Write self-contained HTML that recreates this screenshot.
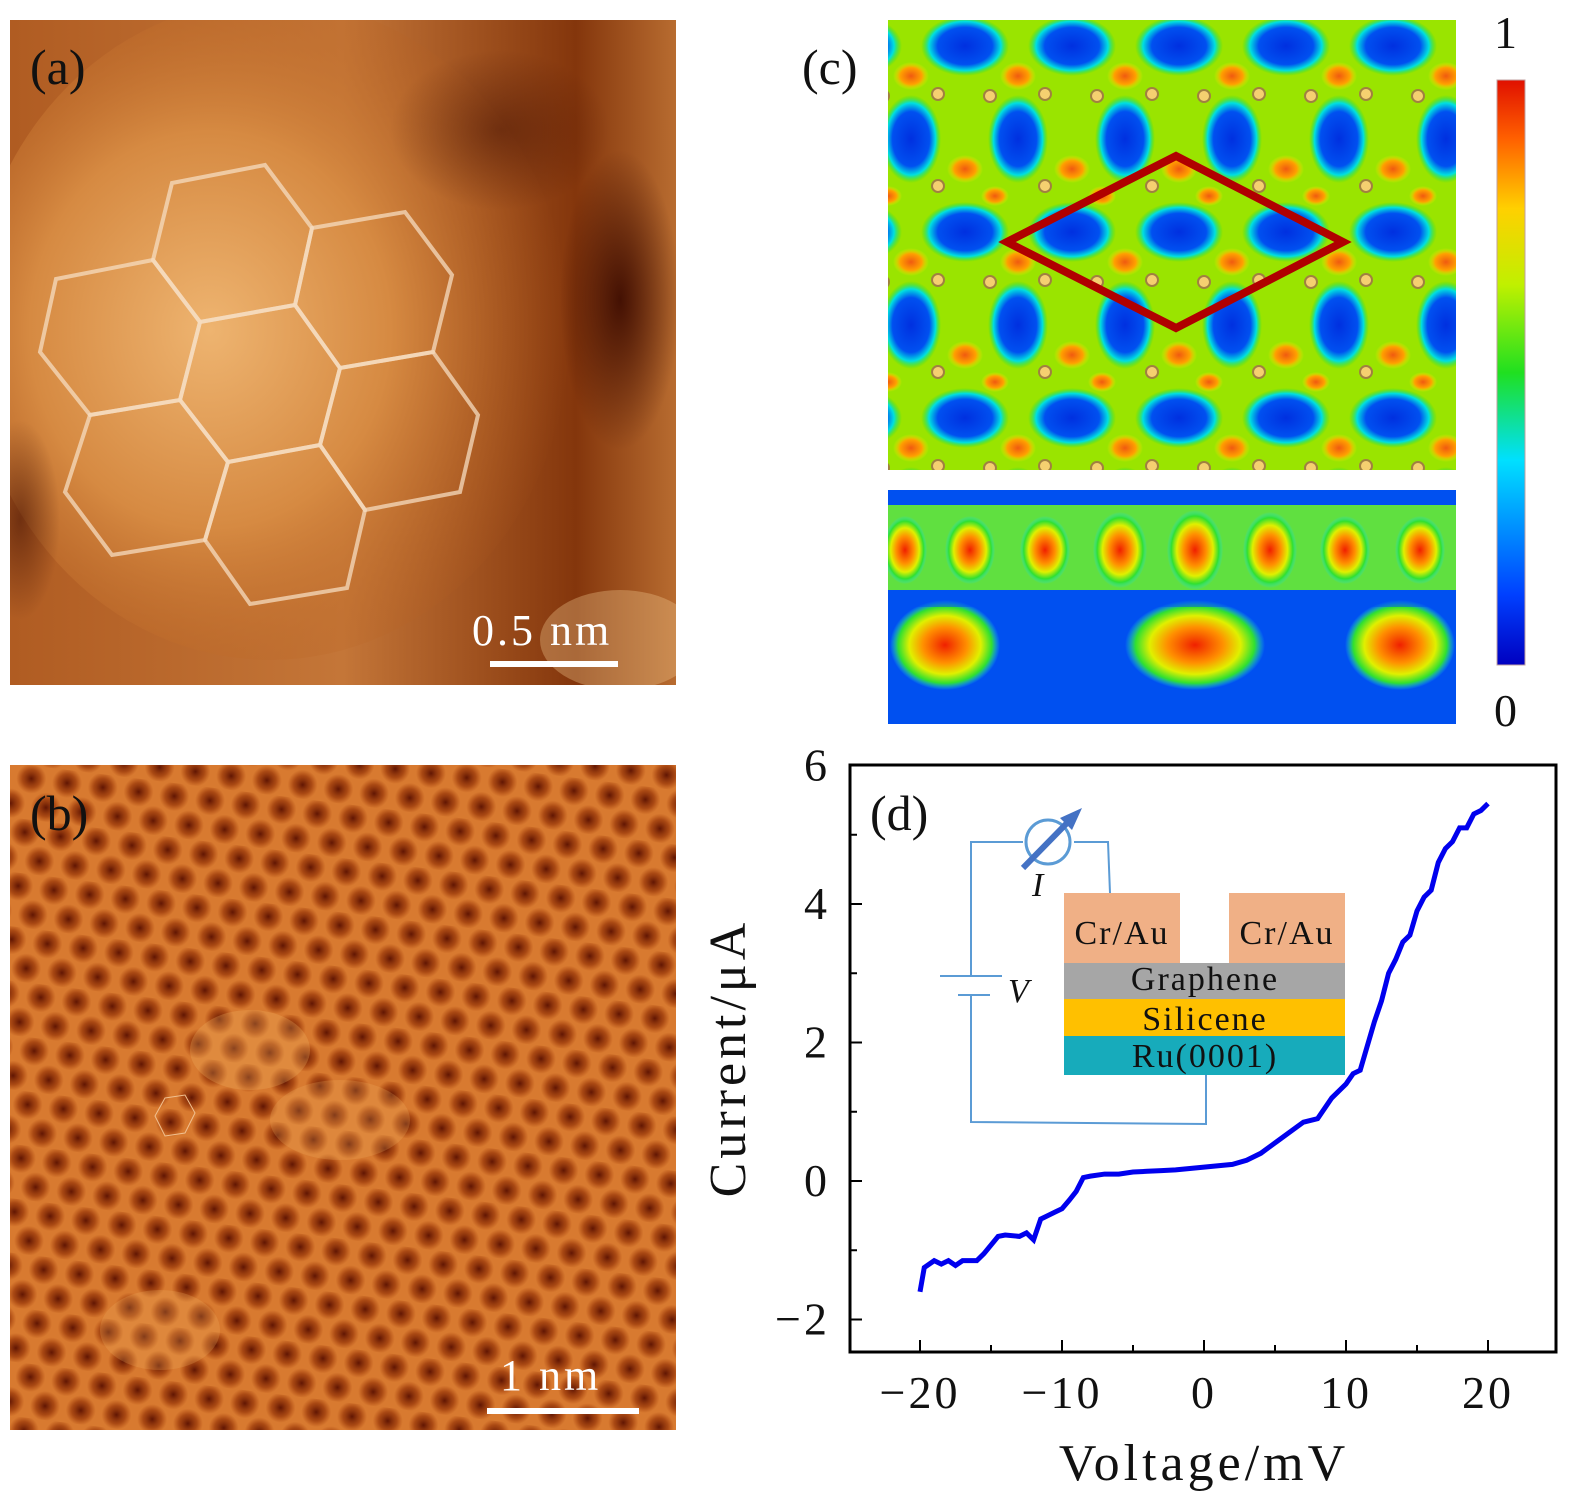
<!DOCTYPE html>
<html><head><meta charset="utf-8"><style>
body{margin:0;background:#fff;width:1575px;height:1506px;overflow:hidden;font-family:"Liberation Serif",serif}
svg{position:absolute;left:0;top:0}
</style></head><body>
<svg width="1575" height="1506" viewBox="0 0 1575 1506">
<defs>
<radialGradient id="aBright" cx="0.4" cy="0.5" r="0.6"><stop offset="0" stop-color="#eeb470"/><stop offset="0.5" stop-color="#d68a42"/><stop offset="1" stop-color="#b25a1c" stop-opacity="0"/></radialGradient>
<linearGradient id="aBase" x1="0" y1="0" x2="1" y2="0"><stop offset="0" stop-color="#b05c22"/><stop offset="0.5" stop-color="#c47638"/><stop offset="0.85" stop-color="#84360c"/><stop offset="1" stop-color="#b86c30"/></linearGradient>
<radialGradient id="dark" r="0.5"><stop offset="0" stop-color="#3a0a00" stop-opacity="0.9"/><stop offset="1" stop-color="#3a0a00" stop-opacity="0"/></radialGradient>
<radialGradient id="bdot" r="0.5"><stop offset="0" stop-color="#5a1000" stop-opacity="0.95"/><stop offset="0.6" stop-color="#8a2800" stop-opacity="0.6"/><stop offset="1" stop-color="#9a3000" stop-opacity="0"/></radialGradient>
<pattern id="bpat" width="36" height="54" patternUnits="userSpaceOnUse" patternTransform="rotate(7)">
<rect width="36" height="54" fill="#d87a30"/>
<circle cx="18" cy="13" r="15" fill="url(#bdot)"/><circle cx="0" cy="40" r="15" fill="url(#bdot)"/><circle cx="36" cy="40" r="15" fill="url(#bdot)"/>
</pattern>
<radialGradient id="blue" r="0.5"><stop offset="0" stop-color="#0030e0"/><stop offset="0.62" stop-color="#0050f0"/><stop offset="0.82" stop-color="#00e0e0"/><stop offset="1" stop-color="#20e020" stop-opacity="0"/></radialGradient>
<radialGradient id="org" r="0.5"><stop offset="0" stop-color="#f05a10"/><stop offset="0.6" stop-color="#ffa000"/><stop offset="1" stop-color="#f0f000" stop-opacity="0"/></radialGradient>
<pattern id="cpat" width="107" height="186" patternUnits="userSpaceOnUse" patternTransform="translate(965,46)">
<rect width="107" height="186" fill="#9ae400"/>
<ellipse cx="0" cy="0" rx="44" ry="30" fill="url(#blue)"/>
<ellipse cx="107" cy="0" rx="44" ry="30" fill="url(#blue)"/>
<ellipse cx="0" cy="186" rx="44" ry="30" fill="url(#blue)"/>
<ellipse cx="107" cy="186" rx="44" ry="30" fill="url(#blue)"/>
<ellipse cx="53" cy="93" rx="30" ry="44" fill="url(#blue)"/>
<ellipse cx="53" cy="30" rx="18" ry="14" fill="url(#org)"/>
<ellipse cx="0" cy="123" rx="18" ry="14" fill="url(#org)"/>
<ellipse cx="107" cy="123" rx="18" ry="14" fill="url(#org)"/>
<ellipse cx="30" cy="150" rx="14" ry="10" fill="url(#org)"/>
<circle cx="25" cy="50" r="6" fill="#f5d070" stroke="#a08040" stroke-width="2"/>
<circle cx="80" cy="140" r="6" fill="#f5d070" stroke="#a08040" stroke-width="2"/>
<circle cx="80" cy="48" r="6" fill="#f5d070" stroke="#a08040" stroke-width="2"/>
</pattern>
<linearGradient id="jet" x1="0" y1="1" x2="0" y2="0"><stop offset="0" stop-color="#0000c0"/><stop offset="0.12" stop-color="#0040ff"/><stop offset="0.35" stop-color="#00e0ff"/><stop offset="0.5" stop-color="#20e020"/><stop offset="0.65" stop-color="#c0f000"/><stop offset="0.78" stop-color="#ffd000"/><stop offset="0.9" stop-color="#ff6000"/><stop offset="1" stop-color="#e01000"/></linearGradient>
<radialGradient id="rblob" r="0.5"><stop offset="0" stop-color="#f02000"/><stop offset="0.4" stop-color="#ff9000"/><stop offset="0.65" stop-color="#e0f000"/><stop offset="0.85" stop-color="#30e030"/><stop offset="1" stop-color="#20e0e0" stop-opacity="0"/></radialGradient>
<clipPath id="clipA"><rect x="10" y="20" width="666" height="665"/></clipPath>
<clipPath id="clipC1"><rect x="888" y="20" width="568" height="450"/></clipPath>
<clipPath id="clipC2"><rect x="888" y="490" width="568" height="234"/></clipPath>
</defs>

<g clip-path="url(#clipA)">
<rect x="10" y="20" width="666" height="665" fill="url(#aBase)"/>
<ellipse cx="270" cy="330" rx="300" ry="330" fill="url(#aBright)"/>
<ellipse cx="620" cy="300" rx="60" ry="150" fill="url(#dark)"/>
<ellipse cx="500" cy="130" rx="110" ry="80" fill="url(#dark)" opacity="0.5"/>
<ellipse cx="20" cy="520" rx="40" ry="100" fill="url(#dark)" opacity="0.6"/>
<ellipse cx="620" cy="640" rx="80" ry="50" fill="#f0c890" opacity="0.35"/>
<g fill="none" stroke="#f5dcc0" stroke-opacity="0.75" stroke-width="4">
<polygon points="172,183 265,165 312,228 295,305 200,322 153,260"/>
<polygon points="312,228 405,212 452,275 433,352 340,368 295,305"/>
<polygon points="56,279 153,260 200,322 180,400 90,415 40,352"/>
<polygon points="200,322 295,305 340,368 320,445 228,462 180,400"/>
<polygon points="340,368 433,352 478,415 460,492 365,510 320,445"/>
<polygon points="90,415 180,400 228,462 205,540 112,555 65,492"/>
<polygon points="228,462 320,445 365,510 347,588 250,604 205,540"/>
</g>
</g>
<text x="30" y="84" font-size="50" fill="#111">(a)</text>
<text x="472" y="645" font-size="44" letter-spacing="3" fill="#fff">0.5 nm</text>
<rect x="490" y="661" width="128" height="6" fill="#fff"/>

<g>
<rect x="10" y="765" width="666" height="665" fill="url(#bpat)"/>
<ellipse cx="250" cy="1050" rx="60" ry="40" fill="#f0b060" opacity="0.3"/>
<ellipse cx="340" cy="1120" rx="70" ry="40" fill="#f0b060" opacity="0.25"/>
<ellipse cx="160" cy="1330" rx="60" ry="40" fill="#f0b060" opacity="0.25"/>
<polygon points="165,1098 185,1095 195,1113 185,1133 165,1136 155,1116" fill="none" stroke="#f0c090" stroke-width="1"/>
</g>
<text x="30" y="830" font-size="50" fill="#111">(b)</text>
<text x="500" y="1390" font-size="44" letter-spacing="3" fill="#fff">1 nm</text>
<rect x="487" y="1408" width="152" height="6" fill="#fff"/>

<text x="802" y="84" font-size="50" fill="#111">(c)</text>
<g clip-path="url(#clipC1)">
<rect x="888" y="20" width="568" height="450" fill="url(#cpat)"/>
</g>
<polygon points="1007,242 1176,156 1343,242 1176,328" fill="none" stroke="#b00000" stroke-width="8"/>
<g clip-path="url(#clipC2)">
<rect x="888" y="490" width="568" height="234" fill="#0050f0"/>
<rect x="888" y="505" width="568" height="85" fill="#60e040"/>
<g fill="url(#rblob)">
<ellipse cx="905" cy="550" rx="22" ry="34"/><ellipse cx="970" cy="550" rx="25" ry="34"/><ellipse cx="1045" cy="550" rx="25" ry="34"/>
<ellipse cx="1120" cy="550" rx="27" ry="38"/><ellipse cx="1195" cy="550" rx="28" ry="40"/><ellipse cx="1270" cy="550" rx="27" ry="38"/>
<ellipse cx="1345" cy="550" rx="25" ry="34"/><ellipse cx="1420" cy="550" rx="25" ry="34"/>
<ellipse cx="945" cy="645" rx="55" ry="45"/><ellipse cx="1195" cy="645" rx="70" ry="45"/><ellipse cx="1400" cy="645" rx="55" ry="45"/>
</g>
<rect x="888" y="597" width="568" height="10" fill="#0050f0" opacity="0.5"/>
</g>
<rect x="1497" y="80" width="28" height="585" fill="url(#jet)" stroke="#c0a0a0"/>
<text x="1494" y="48" font-size="46" fill="#111">1</text>
<text x="1494" y="726" font-size="46" fill="#111">0</text>

<g id="chartD"></g>
</svg>
<script>
const xTicks=[-20,-10,0,10,20];
const yTicks=[-2,0,2,4,6];
const xTickLabels=["\u221220","\u221210","0","10","20"];
const yTickLabels=["\u22122","0","2","4","6"];
const voltage=[-20,-19.7,-19,-18.5,-18,-17.5,-17,-16,-15.5,-14.5,-14,-13,-12.5,-12,-11.5,-11,-10.5,-10,-9.5,-9,-8.5,-8,-7,-6,-5,-4,-3,-2,-1,0,1,2,3,4,5,6,7,8,9,10,10.5,11,11.5,12,12.5,13,13.5,14,14.5,15,15.5,16,16.5,17,17.5,18,18.5,19,19.5,20];
const current=[-1.6,-1.25,-1.15,-1.2,-1.15,-1.22,-1.15,-1.15,-1.05,-0.8,-0.78,-0.8,-0.75,-0.85,-0.55,-0.5,-0.45,-0.4,-0.28,-0.15,0.05,0.07,0.1,0.1,0.13,0.14,0.15,0.16,0.18,0.2,0.22,0.24,0.3,0.4,0.55,0.7,0.85,0.9,1.2,1.4,1.55,1.6,1.95,2.3,2.6,3.0,3.2,3.45,3.55,3.9,4.1,4.2,4.6,4.8,4.9,5.1,5.1,5.3,5.35,5.45];
const NS="http://www.w3.org/2000/svg";
const L=850,R=1556,T=765,B=1352;
function xs(v){return 1204+v*14.2;}
function ys(v){return 1181-v*69.25;}
const g=document.getElementById('chartD');
function mk(tag,attrs){const e=document.createElementNS(NS,tag);for(const k in attrs)e.setAttribute(k,attrs[k]);g.appendChild(e);return e;}
const frame=mk('rect',{x:L,y:T,width:R-L,height:B-T,fill:'none',stroke:'#000','stroke-width':3});


xTicks.forEach((t,i)=>{
 const tk=mk('line',{x1:xs(t),x2:xs(t),y1:B,y2:B-12,stroke:'#000','stroke-width':2});
 
 
 if(i<xTicks.length-1){const m=mk('line',{x1:xs(t+5),x2:xs(t+5),y1:B,y2:B-7,stroke:'#000','stroke-width':2});
 
 }
 const lb=mk('text',{x:xs(t),y:1408,'font-size':46,'letter-spacing':3,'text-anchor':'middle',fill:'#111'});lb.textContent=xTickLabels[i];
 
 
});
yTicks.forEach((t,i)=>{
 const tk=mk('line',{x1:L,x2:L+12,y1:ys(t),y2:ys(t),stroke:'#000','stroke-width':2});
 
 
 if(i<yTicks.length-1){const m=mk('line',{x1:L,x2:L+7,y1:ys(t+1),y2:ys(t+1),stroke:'#000','stroke-width':2});
 
 }
 const lb=mk('text',{x:830,y:ys(t)+15,'font-size':46,'letter-spacing':3,'text-anchor':'end',fill:'#111'});lb.textContent=yTickLabels[i];
 
 
});
let d='';
voltage.forEach((v,i)=>{d+=(i?'L':'M')+xs(v)+','+ys(current[i])+' ';});
const line=mk('path',{d:d,fill:'none',stroke:'#0000ee','stroke-width':5});


const xt=mk('text',{x:1204,y:1480,'font-size':52,'letter-spacing':4,'text-anchor':'middle',fill:'#111'});xt.textContent='Voltage/mV';


const yt=mk('text',{x:0,y:0,'font-size':52,'letter-spacing':4,'text-anchor':'middle',fill:'#111',transform:'translate(745,1058) rotate(-90)'});yt.textContent='Current/\u03bcA';


const dl=mk('text',{x:870,y:830,'font-size':50,fill:'#111'});dl.textContent='(d)';


const ins=document.createElementNS(NS,'g');


ins.innerHTML=`
<polyline points="1110,893 1108,842 1074,842" fill="none" stroke="#5b9bd5" stroke-width="2"/>
<polyline points="1023,842 971,842 971,976" fill="none" stroke="#5b9bd5" stroke-width="2"/>
<polyline points="971,995 971,1122 1206,1124 1206,1075" fill="none" stroke="#5b9bd5" stroke-width="2"/>
<line x1="940" y1="976" x2="1002" y2="976" stroke="#5b9bd5" stroke-width="2"/>
<line x1="958" y1="995" x2="990" y2="995" stroke="#5b9bd5" stroke-width="2"/>
<circle cx="1048" cy="842" r="22" fill="none" stroke="#5b9bd5" stroke-width="3"/>
<line x1="1023" y1="868" x2="1068" y2="822" stroke="#4472c4" stroke-width="6"/>
<polygon points="1082,808 1060,818 1072,830" fill="#4472c4"/>
<text x="1032" y="896" font-size="34" font-style="italic" fill="#111">I</text>
<text x="1008" y="1002" font-size="34" font-style="italic" fill="#111">V</text>
<rect x="1064" y="893" width="116" height="70" fill="#f0b086"/>
<rect x="1229" y="893" width="116" height="70" fill="#f0b086"/>
<text x="1122" y="944" font-size="34" letter-spacing="2" text-anchor="middle" fill="#111">Cr/Au</text>
<text x="1287" y="944" font-size="34" letter-spacing="2" text-anchor="middle" fill="#111">Cr/Au</text>
<rect x="1064" y="963" width="281" height="36" fill="#a6a6a6"/>
<text x="1205" y="990" font-size="34" letter-spacing="2" text-anchor="middle" fill="#111">Graphene</text>
<rect x="1064" y="999" width="281" height="37" fill="#ffc000"/>
<text x="1205" y="1030" font-size="34" letter-spacing="2" text-anchor="middle" fill="#111">Silicene</text>
<rect x="1064" y="1036" width="281" height="39" fill="#17abbb"/>
<text x="1205" y="1067" font-size="34" letter-spacing="2" text-anchor="middle" fill="#111">Ru(0001)</text>`;
g.appendChild(ins);
</script>
</body></html>
